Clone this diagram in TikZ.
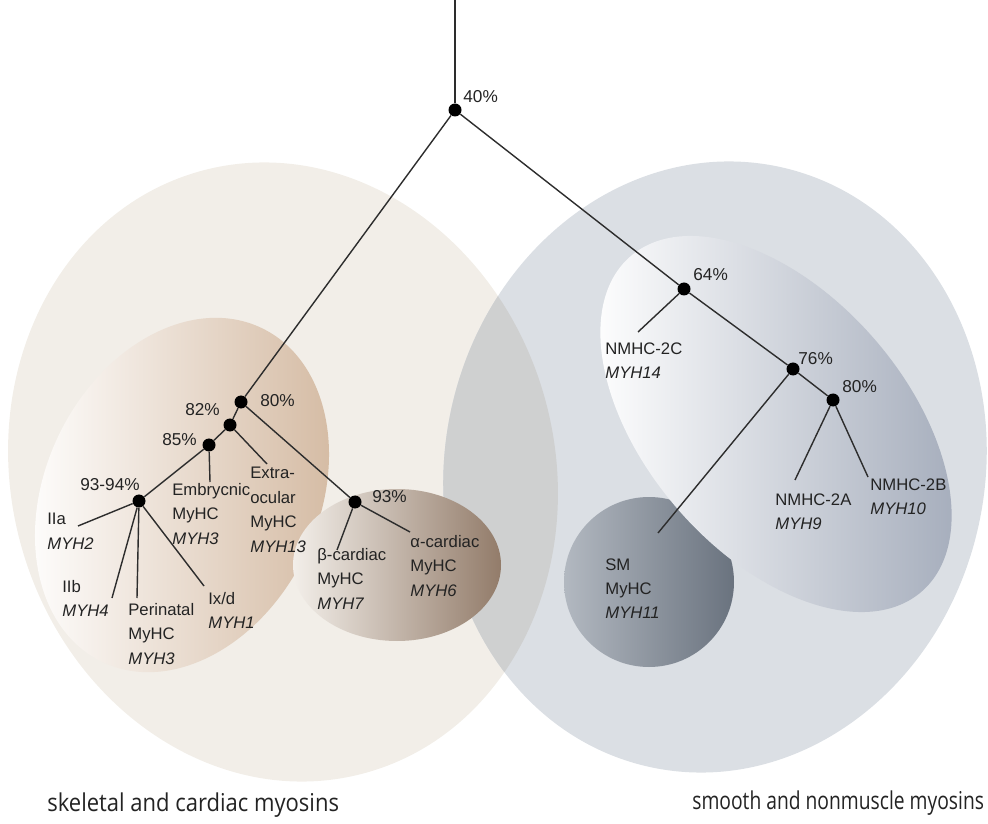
\documentclass[tikz,border=0pt]{standalone}
\usepackage{fontspec}
\setmainfont{Liberation Sans}
\newfontfamily\capfont{Open Sans}
\usepackage{graphicx}
\usepackage{tikz}
\usetikzlibrary{positioning}
\definecolor{skelbg}{RGB}{242,238,232}
\definecolor{smoothbg}{RGB}{219,223,228}
\definecolor{overlapbg}{RGB}{207,208,208}
\definecolor{skeltan}{RGB}{212,186,162}
\definecolor{cardlight}{RGB}{244,240,235}
\definecolor{carddark}{RGB}{145,122,104}
\definecolor{nmright}{RGB}{164,172,187}
\definecolor{smlight}{RGB}{180,186,194}
\definecolor{smdark}{RGB}{104,113,125}
\definecolor{treeline}{RGB}{45,45,45}
\definecolor{labeltext}{RGB}{35,35,35}
\tikzset{
  branchdot/.style={circle, fill=black, inner sep=0pt, minimum size=7.4pt},
  branch/.style={draw=treeline, line width=0.8pt},
  leaflabel/.style={anchor=north west, inner sep=0pt, align=left, text=labeltext,
    font=\fontsize{9.5}{13.9}\selectfont},
  pct/.style={leaflabel, font=\fontsize{9.8}{12}\selectfont},
  caption/.style={anchor=south west, inner sep=0pt, text=labeltext}
}

\begin{document}
\begin{tikzpicture}[x=0.02cm, y=-0.02cm]
  \useasboundingbox (0,0) rectangle (988,824);

  % Outer groups
  \fill[skelbg, rotate around={15:(283,472)}] (283,472) ellipse [x radius=272, y radius=312];
  \fill[smoothbg, rotate around={-12:(715,467)}] (715,467) ellipse [x radius=270, y radius=307];
  \begin{scope}
    \clip[rotate around={15:(283,472)}] (283,472) ellipse [x radius=272, y radius=312];
    \fill[overlapbg, rotate around={-12:(715,467)}] (715,467) ellipse [x radius=270, y radius=307];
  \end{scope}

  % Skeletal group
  \begin{scope}
    \clip[rotate around={64.6:(182,495)}] (182,495) ellipse [x radius=185, y radius=137];
    \shade[left color=white, right color=skeltan] (20,280) rectangle (340,720);
  \end{scope}

  % Cardiac group
  \begin{scope}
    \clip (397,565) ellipse [x radius=104, y radius=76];
    \shade[left color=cardlight, right color=carddark] (290,480) rectangle (504,650);
  \end{scope}

  % Smooth muscle group
  \begin{scope}
    \clip (649,582) circle [radius=85];
    \shade[left color=smlight, right color=smdark] (560,490) rectangle (738,670);
  \end{scope}

  % Nonmuscle group
  \begin{scope}
    \clip[rotate around={-49:(776,424)}] (776,424) ellipse [x radius=222, y radius=130];
    \shade[left color=white, right color=nmright] (590,200) rectangle (965,640);
  \end{scope}

  % Branch points
  \coordinate (top) at (455,0);
  \node[branchdot] (root) at (455,110) {};
  \node[branchdot] (sk80) at (241,402) {};
  \node[branchdot] (sk82) at (230,425) {};
  \node[branchdot] (sk85) at (209,445) {};
  \node[branchdot] (sk93) at (139,501) {};
  \node[branchdot] (ca93) at (355,502) {};
  \node[branchdot] (sm64) at (684,289) {};
  \node[branchdot] (sm76) at (793,369) {};
  \node[branchdot] (sm80) at (833,400) {};

  % Leaf ends
  \coordinate (IIaend) at (78,526);
  \coordinate (IIbend) at (112,598);
  \coordinate (periend) at (137,598);
  \coordinate (ixdend) at (204,586);
  \coordinate (embend) at (210,482);
  \coordinate (extraend) at (267,464);
  \coordinate (betaend) at (337,550);
  \coordinate (alphaend) at (410,532);
  \coordinate (nm2Cend) at (638,332);
  \coordinate (smend) at (658,533);
  \coordinate (nm2Aend) at (795,480);
  \coordinate (nm2Bend) at (868,477);

  % Tree
  \draw[branch] (top) -- (root);
  \draw[branch] (root) -- (sk80);
  \draw[branch] (root) -- (sm64);
  \draw[branch] (sk80) -- (sk82);
  \draw[branch] (sk82) -- (sk85);
  \draw[branch] (sk85) -- (sk93);
  \draw[branch] (sk80) -- (ca93);
  \draw[branch] (sk82) -- (extraend);
  \draw[branch] (sk85) -- (embend);
  \draw[branch] (sk93) -- (IIaend);
  \draw[branch] (sk93) -- (IIbend);
  \draw[branch] (sk93) -- (periend);
  \draw[branch] (sk93) -- (ixdend);
  \draw[branch] (ca93) -- (betaend);
  \draw[branch] (ca93) -- (alphaend);
  \draw[branch] (sm64) -- (sm76);
  \draw[branch] (sm76) -- (sm80);
  \draw[branch] (sm64) -- (nm2Cend);
  \draw[branch] (sm76) -- (smend);
  \draw[branch] (sm80) -- (nm2Aend);
  \draw[branch] (sm80) -- (nm2Bend);

  % Identities
  \node[pct] (p40) at (463,90) {40\%};
  \node[pct] (p80a) at (260,394) {80\%};
  \node[pct] (p82) at (185,403) {82\%};
  \node[pct] (p85) at (162,433) {85\%};
  \node[pct] (p9394) at (80,478) {93-94\%};
  \node[pct] (p93) at (372,490) {93\%};
  \node[pct] (p64) at (693,268) {64\%};
  \node[pct] (p76) at (798,352) {76\%};
  \node[pct] (p80b) at (842,380) {80\%};

  % Isoforms
  \node[leaflabel] (IIa) at (47,513) {IIa\\\textit{MYH2}};
  \node[leaflabel] (IIb) at (62,580) {IIb\\\textit{MYH4}};
  \node[leaflabel] (peri) at (128,603) {Perinatal\\MyHC\\\textit{MYH3}};
  \node[leaflabel] (ixd) at (208,592) {Ix/d\\\textit{MYH1}};
  \node[leaflabel] (emb) at (172,483) {Embrycnic\\MyHC\\\textit{MYH3}};
  \node[leaflabel] (extra) at (250,467) {Extra-\\ocular\\MyHC\\\textit{MYH13}};
  \node[leaflabel] (beta) at (317,548) {β-cardiac\\MyHC\\\textit{MYH7}};
  \node[leaflabel] (alpha) at (410,535) {α-cardiac\\MyHC\\\textit{MYH6}};
  \node[leaflabel] (nm2C) at (605,342) {NMHC-2C\\\textit{MYH14}};
  \node[leaflabel] (nm2A) at (775,493) {NMHC-2A\\\textit{MYH9}};
  \node[leaflabel] (nm2B) at (870,478) {NMHC-2B\\\textit{MYH10}};
  \node[leaflabel] (sm) at (605,558) {SM\\MyHC\\\textit{MYH11}};

  % Group captions
  \node[caption] (skelcap) at (47,818) {\resizebox*{166pt}{14pt}{\capfont skeletal and cardiac myosins}};
  \node[caption] (smoothcap) at (692,816) {\resizebox*{166pt}{14pt}{\capfont smooth and nonmuscle myosins}};
\end{tikzpicture}
\end{document}
